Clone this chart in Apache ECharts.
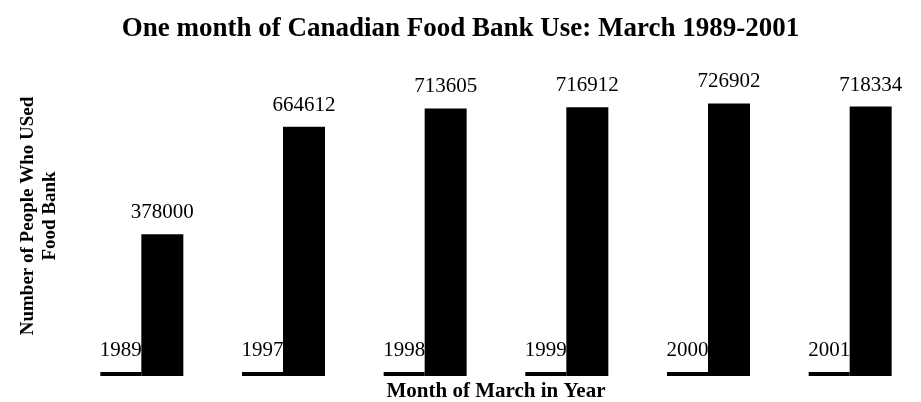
<!DOCTYPE html>
<html>
<head>
<meta charset="utf-8">
<script src="https://cdn.jsdelivr.net/npm/echarts@6/dist/echarts.min.js"></script>
<style>html,body{margin:0;padding:0;background:#fff}#c{width:921px;height:402px}</style>
</head>
<body>
<div id="c"></div>
<script>
var categories = ['1989', '1997', '1998', '1999', '2000', '2001'];
var yearValues = [1989, 1997, 1998, 1999, 2000, 2001];
var peopleValues = [378000, 664612, 713605, 716912, 726902, 718334];
var titleText = 'One month of Canadian Food Bank Use: March 1989-2001';
var yTitle = 'Number of People Who USed\nFood Bank';
var xTitle = 'Month of March in Year';

var chart = echarts.init(document.getElementById('c'));
var serif = '"Liberation Serif", "Times New Roman", serif';
var labelStyle = {show: true, position: 'top', distance: 11, color: '#000', fontFamily: serif, fontSize: 21};
chart.setOption({
  animation: false,
  title: {text: titleText, left: 'center', top: 11,
    textStyle: {fontFamily: serif, fontWeight: 'bold', fontSize: 27, color: '#000'}},
  grid: {left: 71, right: 0, top: 76, bottom: 26, outerBoundsMode: 'none', containLabel: false},
  xAxis: {type: 'category', data: categories,
    axisLine: {show: false}, axisTick: {show: false}, axisLabel: {show: false},
    name: xTitle, nameLocation: 'middle', nameGap: 5,
    nameTextStyle: {fontFamily: serif, fontWeight: 'bold', fontSize: 21, color: '#000', verticalAlign: 'top'}},
  yAxis: {type: 'value', min: 0, max: 800000,
    axisLine: {show: false}, axisTick: {show: false}, axisLabel: {show: false}, splitLine: {show: false}},
  graphic: [{type: 'text', x: 39, y: 216, rotation: Math.PI / 2,
    style: {text: yTitle, fontFamily: serif, fontWeight: 'bold', fontSize: 19, fill: '#000',
      textAlign: 'center', textVerticalAlign: 'middle', lineHeight: 22}}],
  series: [
    {type: 'bar', data: yearValues, barWidth: 41, barGap: '0%', barMinHeight: 4,
     itemStyle: {color: '#000'}, label: labelStyle},
    {type: 'bar', data: peopleValues, barWidth: 42, barGap: '0%',
     itemStyle: {color: '#000'}, label: labelStyle}
  ]
});
</script>
</body>
</html>
